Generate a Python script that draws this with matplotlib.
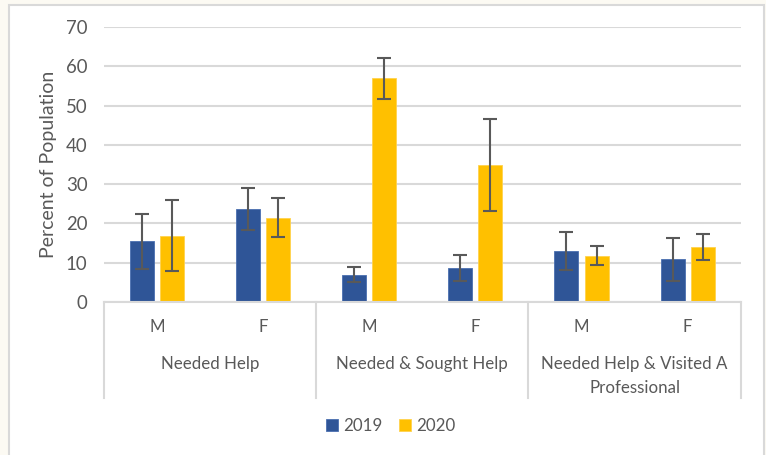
import matplotlib
matplotlib.use("Agg")
import matplotlib.pyplot as plt
import numpy as np
from matplotlib.patches import Rectangle
from matplotlib.transforms import blended_transform_factory

plt.rcParams['font.family'] = ['Lato', 'DejaVu Sans']

sub_labels = ["M", "F", "M", "F", "M", "F"]
group_labels = ["Needed Help", "Needed & Sought Help", "Needed Help & Visited A\nProfessional"]
series_names = ["2019", "2020"]
vals_2019 = [15.5, 23.7, 7.0, 8.6, 13.0, 10.9]
vals_2020 = [16.9, 21.5, 56.9, 34.9, 11.8, 14.0]
err_2019 = [7.0, 5.3, 1.9, 3.3, 4.8, 5.5]
err_2020 = [9.0, 4.9, 5.2, 11.7, 2.5, 3.3]
yticks = [0, 10, 20, 30, 40, 50, 60, 70]

W, H = 766, 455
fig = plt.figure(figsize=(W/100, H/100), dpi=100, facecolor="#FCFAF3")
bg = Rectangle((8.5/W, -0.01), (763.5-8.5)/W, 1.01-4.5/H, transform=fig.transFigure,
               facecolor="white", edgecolor="#D9D9D9", linewidth=1.5, zorder=-5)
fig.add_artist(bg)

ax = fig.add_axes([104/W, 1-302/H, (740.7-104)/W, (302-27)/H])
ax.set_facecolor("none")
x = np.arange(len(sub_labels))
bw = 0.226
off = 0.142
tick_col = "#595959"
fs = 12.2
ax.bar(x-off, vals_2019, bw, color="#2F5597", edgecolor="#4A6FB0", linewidth=0.6, zorder=2, label=series_names[0])
ax.bar(x+off, vals_2020, bw, color="#FFC000", edgecolor="#FFD24D", linewidth=0.6, zorder=2, label=series_names[1])
ax.errorbar(x-off, vals_2019, yerr=err_2019, fmt="none", ecolor="#595959", elinewidth=1.5, capsize=5, capthick=1.5, zorder=3)
ax.errorbar(x+off, vals_2020, yerr=err_2020, fmt="none", ecolor="#595959", elinewidth=1.5, capsize=5, capthick=1.5, zorder=3)

ax.set_xlim(-0.5, 5.5)
ax.set_ylim(0, 70)
ax.set_yticks(yticks)
ax.set_yticklabels([str(t) for t in yticks], fontsize=13.4, color=tick_col)
ax.tick_params(axis="y", length=0, pad=12)
ax.set_xticks([])
for s in ["left", "right", "top"]:
    ax.spines[s].set_visible(False)
ax.spines["bottom"].set_color("#D9D9D9")
ax.spines["bottom"].set_linewidth(1.5)
ax.yaxis.grid(True, color="#D9D9D9", linewidth=1.5, zorder=0)
ax.set_axisbelow(True)
ax.set_ylabel("Percent of Population", fontsize=14, color=tick_col)
ax.yaxis.set_label_coords((57-104)/636.7, 0.5)

tr = blended_transform_factory(ax.transData, ax.transAxes)
ah = (302-27)
sep_bottom = -(398-302)/ah
for sx in [-0.5, 1.5, 3.5, 5.5]:
    ax.plot([sx, sx], [0, sep_bottom], transform=tr, color="#D9D9D9", linewidth=1.5, clip_on=False)
for i, lab in enumerate(sub_labels):
    ax.text(x[i], -(327-302)/ah, lab, transform=tr, ha="center", va="center", fontsize=fs, color=tick_col)
for g, lab in enumerate(group_labels):
    for k, ln in enumerate(lab.split("\n")):
        ax.text(2*g+0.5, -(364+k*24-302)/ah, ln, transform=tr, ha="center", va="center",
                fontsize=fs, color=tick_col)

leg = fig.legend(loc="center", bbox_to_anchor=(391/W, 1-426/H), ncol=2, frameon=False,
                 fontsize=fs, handlelength=0.7, handleheight=0.7, handletextpad=0.3,
                 columnspacing=1.0, labelcolor=tick_col)

fig.savefig("out.png", dpi=100, facecolor=fig.get_facecolor())
